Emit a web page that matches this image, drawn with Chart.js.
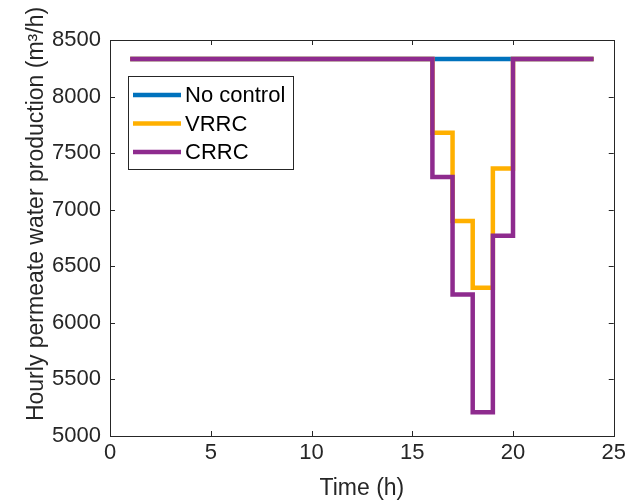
<!DOCTYPE html>
<html>
<head>
<meta charset="utf-8">
<script src="https://cdn.jsdelivr.net/npm/chart.js@4.4.0/dist/chart.umd.min.js"></script>
<style>
html,body{margin:0;padding:0;background:#fff;}
#wrap{width:630px;height:502px;}
</style>
</head>
<body>
<div id="wrap"><canvas id="permeateChart" width="630" height="502"></canvas></div>
<script>

/* DATA */

const hours = [1,2,3,4,5,6,7,8,9,10,11,12,13,14,15,16,17,18,19,20,21,22,23,24];
const noControl = [8333,8333,8333,8333,8333,8333,8333,8333,8333,8333,8333,8333,8333,8333,8333,8333,8333,8333,8333,8333,8333,8333,8333,8333];
const vrrc = [8333,8333,8333,8333,8333,8333,8333,8333,8333,8333,8333,8333,8333,8333,8333,7680,6900,6310,7365,8333,8333,8333,8333,8333];
const crrc = [8333,8333,8333,8333,8333,8333,8333,8333,8333,8333,8333,8333,8333,8333,8333,7290,6250,5210,6770,8333,8333,8333,8333,8333];
const seriesNames = ["No control","VRRC","CRRC"];
const seriesColors = ["#0072BD","#FFB000","#8E2B8E"];
const xTicks = [0,5,10,15,20,25];
const yTicks = [5000,5500,6000,6500,7000,7500,8000,8500];

const ink = "#262626";
const font = "Liberation Sans, Arial, Helvetica, sans-serif";

function pts(vals){
return hours.map((h,i)=>({x:h,y:vals[i]}));
}


/* FRAME, INWARD TICKS, TITLES, LEGEND (matlab look) */

const matlabFrame = {
id:"matlabFrame",
afterDraw(chart){
const ctx = chart.ctx;
const a = chart.chartArea;
const xs = chart.scales.x;
const ys = chart.scales.y;
ctx.save();

ctx.strokeStyle = ink;
ctx.lineWidth = 1;
ctx.strokeRect(Math.round(a.left)+0.5, Math.round(a.top)+0.5, Math.round(a.right-a.left), Math.round(a.bottom-a.top));

const tl = 5;
ctx.beginPath();
xTicks.forEach(v=>{
const px = Math.round(xs.getPixelForValue(v))+0.5;
ctx.moveTo(px,a.bottom); ctx.lineTo(px,a.bottom-tl);
ctx.moveTo(px,a.top); ctx.lineTo(px,a.top+tl);
});
yTicks.forEach(v=>{
const py = Math.round(ys.getPixelForValue(v))+0.5;
ctx.moveTo(a.left,py); ctx.lineTo(a.left+tl,py);
ctx.moveTo(a.right,py); ctx.lineTo(a.right-tl,py);
});
ctx.stroke();

// axis titles
ctx.fillStyle = ink;
ctx.font = "23px " + font;
ctx.textAlign = "center";
ctx.textBaseline = "middle";
ctx.fillText("Time (h)", (a.left+a.right)/2, 489);

ctx.save();
ctx.translate(37, 214);
ctx.rotate(-Math.PI/2);
ctx.fillText("Hourly permeate water production (m\u00B3/h)", 0, 0);
ctx.restore();

// legend
const lx = 128, ly = 76, lw = 165, lh = 93;
ctx.fillStyle = "#fff";
ctx.fillRect(lx,ly,lw,lh);
ctx.strokeStyle = ink;
ctx.lineWidth = 1;
ctx.strokeRect(lx+0.5,ly+0.5,lw,lh);
ctx.font = "22px " + font;
ctx.textAlign = "left";
chart.data.datasets.forEach((ds,i)=>{
const y = ly + 19 + i*28.5;
ctx.strokeStyle = ds.borderColor;
ctx.lineWidth = 4.5;
ctx.beginPath();
ctx.moveTo(lx+5,y); ctx.lineTo(lx+53,y);
ctx.stroke();
ctx.fillStyle = "#000";
ctx.fillText(ds.label, lx+57, y+1);
});

ctx.restore();
}
};


/* CHART */

new Chart(
document.getElementById("permeateChart"),
{
type:"line",
data:{
datasets:[
{
label:seriesNames[0],
data:pts(noControl),
borderColor:seriesColors[0],
order:3
},
{
label:seriesNames[1],
data:pts(vrrc),
borderColor:seriesColors[1],
order:2
},
{
label:seriesNames[2],
data:pts(crrc),
borderColor:seriesColors[2],
order:1
}
]
},
options:{
responsive:false,
animation:false,
layout:{padding:{top:40,right:13,left:0,bottom:0}},
elements:{
line:{borderWidth:4.5,stepped:true,fill:false,borderCapStyle:"butt",borderJoinStyle:"miter"},
point:{radius:0}
},
plugins:{legend:{display:false},tooltip:{enabled:false}},
scales:{
x:{
type:"linear",
min:0,max:25,
afterBuildTicks:(s)=>{s.ticks = xTicks.map(v=>({value:v}));},
afterFit:(s)=>{s.height = 66;},
grid:{display:false,drawTicks:false},
border:{display:false},
ticks:{color:ink,padding:4,font:{family:font,size:22},maxRotation:0,callback:(v)=>String(v)}
},
y:{
type:"linear",
min:5000,max:8500,
afterBuildTicks:(s)=>{s.ticks = yTicks.map(v=>({value:v}));},
afterFit:(s)=>{s.width = 110;},
grid:{display:false,drawTicks:false},
border:{display:false},
ticks:{color:ink,padding:9,font:{family:font,size:22},callback:(v)=>String(v)}
}
}
},
plugins:[matlabFrame]
}
);

</script>
</body>
</html>
